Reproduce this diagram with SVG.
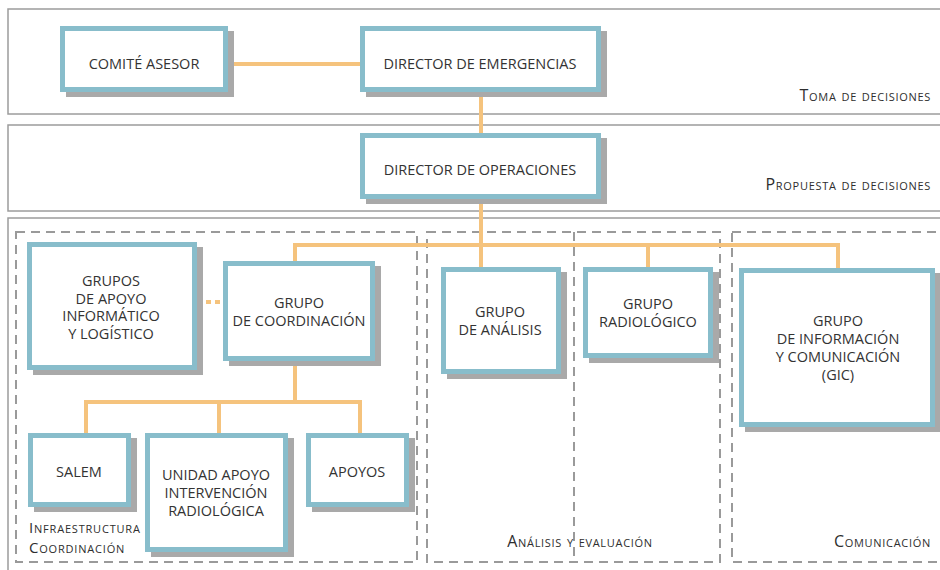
<svg xmlns="http://www.w3.org/2000/svg" width="940" height="570" viewBox="0 0 940 570">
<style>
.band{fill:#fff;stroke:#9c9c9c;stroke-width:1.5}
.zone{fill:none;stroke:#9a9a9a;stroke-width:2;stroke-dasharray:9 6}
.sh{fill:#a9a9a9}
.bx{fill:#fff;stroke:#88bdcb;stroke-width:5}
.c{fill:none;stroke:#f5c37d;stroke-width:4}
.cd{fill:none;stroke:#f5c37d;stroke-width:4;stroke-dasharray:5 4}
.t{font-family:"Open Sans","Liberation Sans",sans-serif;font-size:14.5px;fill:#333;text-anchor:middle}
.l{font-family:"Open Sans","Liberation Sans",sans-serif;font-size:16px;fill:#2e2e2e;font-variant:small-caps;letter-spacing:0.7px}
.ls{font-size:15px;letter-spacing:0.8px}
</style>
<rect width="940" height="570" fill="#fff"/>
<g id="bands">
<rect class="band" x="8" y="9" width="940" height="105"/>
<rect class="band" x="8" y="125" width="940" height="86"/>
<rect class="band" x="8" y="218" width="940" height="380"/>
<text class="l" x="931" y="101" text-anchor="end">Toma de decisiones</text>
<text class="l" x="931" y="190" text-anchor="end">Propuesta de decisiones</text>
</g>
<g id="zones">
<rect class="zone" x="16" y="232" width="401" height="330"/>
<rect class="zone" x="427" y="232" width="293" height="330"/>
<line class="zone" x1="574" y1="232" x2="574" y2="562"/>
<rect class="zone" x="732" y="232" width="230" height="330"/>
<text class="l ls" x="29" y="533">Infraestructura</text>
<text class="l ls" x="29" y="553">Coordinación</text>
<text class="l" x="580" y="547" text-anchor="middle">Análisis y evaluación</text>
<text class="l" x="931" y="547" text-anchor="end">Comunicación</text>
</g>
<g id="connectors">
<path class="c" d="M228 64H360"/>
<path class="c" d="M481 92V133"/>
<path class="c" d="M481 199V267"/>
<path class="c" d="M295 261V245H838V268"/>
<path class="c" d="M648 245V267"/>
<path class="c" d="M295 361V402"/>
<path class="c" d="M86 433V402H360V433"/>
<path class="c" d="M219 402V433"/>
<path class="cd" d="M197 302H223"/>
</g>
<g id="comite-asesor">
<rect class="sh" x="66" y="31" width="168" height="66"/>
<rect class="bx" x="62.5" y="28.5" width="163" height="61"/>
<text class="t" x="144" y="69">COMITÉ ASESOR</text>
</g>
<g id="director-emergencias">
<rect class="sh" x="366" y="31" width="241" height="66"/>
<rect class="bx" x="362.5" y="28.5" width="236" height="61"/>
<text class="t" x="480" y="69">DIRECTOR DE EMERGENCIAS</text>
</g>
<g id="director-operaciones">
<rect class="sh" x="366" y="138" width="241" height="66"/>
<rect class="bx" x="362.5" y="135.5" width="236" height="61"/>
<text class="t" x="480" y="175">DIRECTOR DE OPERACIONES</text>
</g>
<g id="grupos-apoyo">
<rect class="sh" x="33" y="247" width="170" height="128"/>
<rect class="bx" x="29.5" y="244.5" width="165" height="123"/>
<text class="t" x="111" y="286">GRUPOS</text>
<text class="t" x="111" y="303.5">DE APOYO</text>
<text class="t" x="111" y="321">INFORMÁTICO</text>
<text class="t" x="111" y="338.5">Y LOGÍSTICO</text>
</g>
<g id="grupo-coordinacion">
<rect class="sh" x="229" y="266" width="152" height="100"/>
<rect class="bx" x="225.5" y="263.5" width="147" height="95"/>
<text class="t" x="299" y="308">GRUPO</text>
<text class="t" x="299" y="326">DE COORDINACIÓN</text>
</g>
<g id="salem">
<rect class="sh" x="34" y="438" width="103" height="74"/>
<rect class="bx" x="30.5" y="435.5" width="98" height="69"/>
<text class="t" x="79" y="477">SALEM</text>
</g>
<g id="unidad-apoyo">
<rect class="sh" x="151" y="438" width="143" height="119"/>
<rect class="bx" x="147.5" y="435.5" width="138" height="114"/>
<text class="t" x="216" y="480">UNIDAD APOYO</text>
<text class="t" x="216" y="498">INTERVENCIÓN</text>
<text class="t" x="216" y="516">RADIOLÓGICA</text>
</g>
<g id="apoyos">
<rect class="sh" x="312" y="438" width="103" height="74"/>
<rect class="bx" x="308.5" y="435.5" width="98" height="69"/>
<text class="t" x="357" y="477">APOYOS</text>
</g>
<g id="grupo-analisis">
<rect class="sh" x="447" y="272" width="120" height="107"/>
<rect class="bx" x="443.5" y="269.5" width="115" height="102"/>
<text class="t" x="500" y="317">GRUPO</text>
<text class="t" x="500" y="335">DE ANÁLISIS</text>
</g>
<g id="grupo-radiologico">
<rect class="sh" x="589" y="272" width="130" height="91"/>
<rect class="bx" x="585.5" y="269.5" width="125" height="86"/>
<text class="t" x="648" y="309">GRUPO</text>
<text class="t" x="648" y="327">RADIOLÓGICO</text>
</g>
<g id="gic">
<rect class="sh" x="745" y="273" width="196" height="159"/>
<rect class="bx" x="741.5" y="270.5" width="191" height="154"/>
<text class="t" x="838" y="326">GRUPO</text>
<text class="t" x="838" y="344">DE INFORMACIÓN</text>
<text class="t" x="838" y="362">Y COMUNICACIÓN</text>
<text class="t" x="838" y="380">(GIC)</text>
</g>
</svg>
